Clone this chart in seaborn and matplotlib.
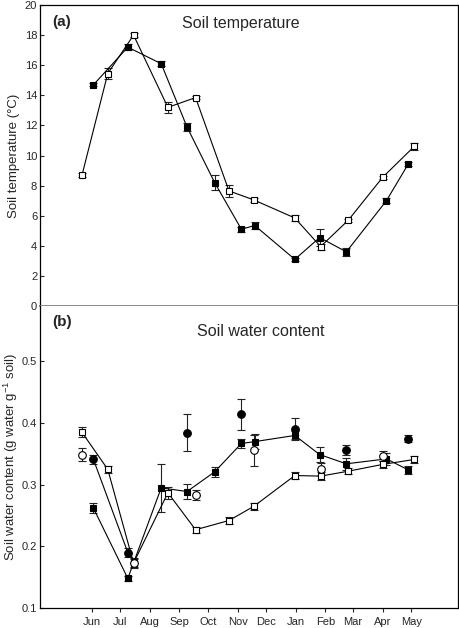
import pandas as pd
import numpy as np
import matplotlib
matplotlib.use('Agg')
import matplotlib.pyplot as plt
import matplotlib.dates as mdates
import seaborn as sb

# Sampling dates (filled = one set of plots, open = the other)
dates_filled = ['2003-06-03', '2003-07-09', '2003-08-13', '2003-09-09', '2003-10-08', '2003-11-05',
                '2003-11-19', '2003-12-31', '2004-01-26', '2004-02-23', '2004-04-05', '2004-04-28']
dates_open = ['2003-05-22', '2003-06-18', '2003-07-15', '2003-08-20', '2003-09-18', '2003-10-23',
              '2003-11-18', '2003-12-31', '2004-01-27', '2004-02-25', '2004-04-01', '2004-05-04']
month_ticks = pd.date_range('2003-06-01', '2004-05-01', freq='MS')

# (a) soil temperature, deg C
temp_filled = [14.7, 17.2, 16.1, 11.9, 8.2, 5.1, 5.35, 3.1, 4.55, 3.6, 7.0, 9.45]
temp_filled_err = [0.1, 0.2, 0.15, 0.25, 0.5, 0.15, 0.2, 0.1, 0.55, 0.25, 0.15, 0.15]
temp_open = [8.7, 15.45, 18.0, 13.2, 13.85, 7.65, 7.05, 5.85, 3.95, 5.7, 8.55, 10.6]
temp_open_err = [0.15, 0.35, 0.15, 0.35, 0.1, 0.4, 0.15, 0.2, 0.2, 0.1, 0.1, 0.25]

# (b) soil water content, g water per g soil
nan = np.nan
swc_filled_sq = [0.262, 0.148, 0.295, 0.289, 0.321, 0.367, 0.370, 0.380, 0.349, 0.334, 0.342, 0.324]
swc_filled_sq_err = [0.008, 0.004, 0.039, 0.012, 0.008, 0.008, 0.012, 0.008, 0.012, 0.010, 0.010, 0.006]
swc_filled_ci = [0.341, 0.190, nan, 0.384, nan, 0.414, nan, 0.391, nan, 0.357, nan, 0.375]
swc_filled_ci_err = [0.008, 0.008, nan, 0.030, nan, 0.025, nan, 0.017, nan, 0.008, nan, 0.006]
swc_open_sq = [0.385, 0.325, 0.173, 0.287, 0.227, 0.242, 0.265, 0.315, 0.314, 0.322, 0.333, 0.341]
swc_open_sq_err = [0.008, 0.006, 0.006, 0.010, 0.005, 0.005, 0.006, 0.006, 0.007, 0.005, 0.006, 0.005]
swc_open_ci = [0.349, nan, 0.173, nan, 0.284, nan, 0.356, nan, 0.326, nan, 0.346, nan]
swc_open_ci_err = [0.011, nan, 0.008, nan, 0.008, nan, 0.025, nan, 0.010, nan, 0.008, nan]

sb.set_style('ticks')
plt.rcParams['font.family'] = ['Liberation Sans', 'DejaVu Sans']
plt.rcParams['mathtext.fontset'] = 'custom'
plt.rcParams['mathtext.rm'] = 'Liberation Sans'
plt.rcParams['mathtext.it'] = 'Liberation Sans:italic'


def draw_series(ax, dates, values, errors, marker, face, size):
    df = pd.DataFrame({'date': pd.to_datetime(dates), 'value': values, 'err': errors})
    # missing values break the line, like the original
    df['run'] = df['value'].isna().cumsum()
    df = df.dropna()
    ax.errorbar(df['date'], df['value'], yerr=df['err'], fmt='none', ecolor='#222222',
                elinewidth=0.8, capsize=2.6, capthick=0.8, zorder=2)
    sb.lineplot(data=df, x='date', y='value', units='run', estimator=None, ax=ax,
                color='black', linewidth=0.8, marker=marker, markersize=size,
                markerfacecolor=face, markeredgecolor='black', markeredgewidth=0.8,
                legend=False, zorder=3)


fig = plt.figure(figsize=(4.6, 6.28), dpi=100)
ax_a = fig.add_axes([0.087, 0.5127, 0.9087, 0.4793])
ax_b = fig.add_axes([0.087, 0.0318, 0.9087, 0.4809])

draw_series(ax_a, dates_filled, temp_filled, temp_filled_err, 's', 'black', 5)
draw_series(ax_a, dates_open, temp_open, temp_open_err, 's', 'white', 5)

draw_series(ax_b, dates_filled, swc_filled_sq, swc_filled_sq_err, 's', 'black', 5)
draw_series(ax_b, dates_filled, swc_filled_ci, swc_filled_ci_err, 'o', 'black', 5.5)
draw_series(ax_b, dates_open, swc_open_sq, swc_open_sq_err, 's', 'white', 5)
draw_series(ax_b, dates_open, swc_open_ci, swc_open_ci_err, 'o', 'white', 5.5)

xmin, xmax = pd.Timestamp('2003-04-08'), pd.Timestamp('2004-06-19')
for ax in (ax_a, ax_b):
    ax.set_xlim(xmin, xmax)
    ax.set_xlabel('')
    for s in ax.spines.values():
        s.set_linewidth(0.9)
        s.set_color('black')
    ax.tick_params(axis='y', direction='in', length=3, width=0.8, labelsize=8, pad=2)
    ax.tick_params(axis='x', direction='out', length=3, width=0.8, labelsize=8)

# panel a
ax_a.set_ylim(0, 20)
ax_a.set_yticks(range(0, 21, 2))
ax_a.set_xticks([])
ax_a.spines['bottom'].set_color('#808080')
ax_a.spines['bottom'].set_linewidth(1.3)
ax_a.set_ylabel('Soil temperature (°C)', fontsize=9.5)
ax_a.yaxis.set_label_coords(-0.048, 0.5)
ax_a.text(0.029, 0.944, '(a)', transform=ax_a.transAxes, fontsize=11, fontweight='bold', va='center')
ax_a.text(0.34, 0.94, 'Soil temperature', transform=ax_a.transAxes, fontsize=11.5, va='center')

# panel b
ax_b.set_ylim(0.1, 0.59)
ax_b.set_yticks([0.1, 0.2, 0.3, 0.4, 0.5])
ax_b.set_xticks(month_ticks)
ax_b.xaxis.set_major_formatter(mdates.DateFormatter('%b'))
ax_b.spines['top'].set_visible(False)
ax_b.set_ylabel('Soil water content (g water g$^{-1}$ soil)', fontsize=9.5)
ax_b.yaxis.set_label_coords(-0.048, 0.5)
ax_b.text(0.029, 0.947, '(b)', transform=ax_b.transAxes, fontsize=11, fontweight='bold', va='center')
ax_b.text(0.376, 0.917, 'Soil water content', transform=ax_b.transAxes, fontsize=11.5, va='center')

fig.savefig('out.png', dpi=100)
